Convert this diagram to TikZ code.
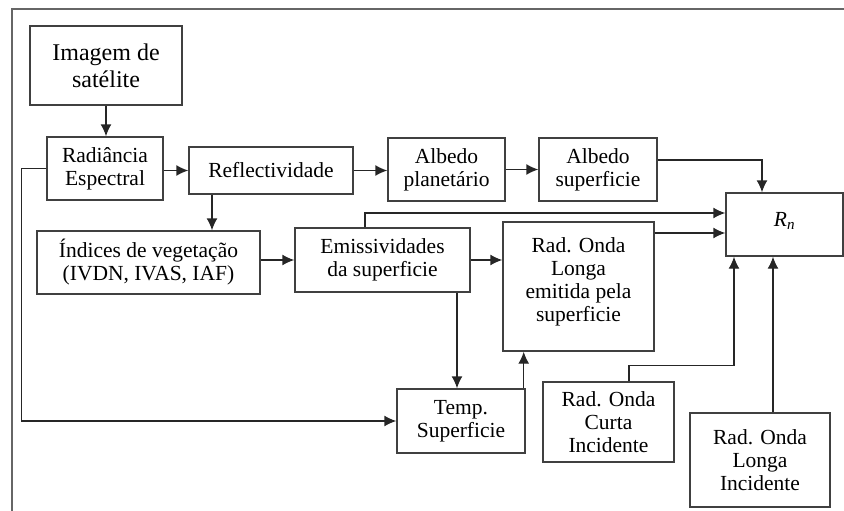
\documentclass[tikz,border=0pt]{standalone}
\usepackage{fontspec}
\setmainfont{Liberation Serif}
\usetikzlibrary{arrows.meta,positioning,calc}

\begin{document}
\begin{tikzpicture}[x=1pt,y=-1pt,
 bx/.style={draw=black!75,line width=1.4pt,align=center,inner sep=0pt,
   font=\fontsize{21.5}{23}\selectfont},
 arr/.style={-{Latex[length=12pt,width=11pt]},draw=black!85,line width=1.4pt}]
\useasboundingbox (0,0) rectangle (844,511);
% moldura
\draw[black!60,line width=1.4pt] (12,530) |- (860,9);

\node[bx,minimum width=152,minimum height=79,font=\fontsize{24}{27}\selectfont] (img) at (106,65.5) {Imagem de\\satélite};
\node[bx,minimum width=116,minimum height=63] (rad) at (105,168.5) {Radiância\\Espectral};
\node[bx,minimum width=164,minimum height=47] (refl) at (271,170.5) {Reflectividade};
\node[bx,minimum width=117,minimum height=63] (albp) at (446.5,169.5) {Albedo\\planetário};
\node[bx,minimum width=118,minimum height=63] (albs) at (598,169.5) {Albedo\\superficie};
\node[bx,minimum width=117,minimum height=63] (rn) at (784.5,224.5) {\textit{R}\textsubscript{\textit{n}}\\[-12pt]};
\node[bx,minimum width=223,minimum height=63] (ind) at (148.5,262.5) {Índices de vegetação\\(IVDN, IVAS, IAF)};
\node[bx,minimum width=175,minimum height=64] (emi) at (382.5,260) {Emissividades\\da superficie};
\node[bx,minimum width=151,minimum height=129] (rol) at (578.5,286.5) {Rad. Onda\\Longa\\emitida pela\\superficie\\[-10pt]};
\node[bx,minimum width=128,minimum height=64] (temp) at (461,421) {Temp.\\Superficie};
\node[bx,minimum width=131,minimum height=80] (roc) at (608.5,422) {Rad. Onda\\Curta\\Incidente};
\node[bx,minimum width=140,minimum height=94] (roli) at (760,460) {Rad. Onda\\Longa\\Incidente};

\draw[arr] (img) -- (img |- rad.north);
\draw[arr] (rad.east |- refl) -- (refl);
\draw[arr] (refl.east) -- (refl.east -| albp.west);
\draw[arr] (albp) -- (albs);
\draw[arr] ([yshift=9.5pt]albs.east) -| ([xshift=-22.5pt]rn.north);
\draw[arr] ([xshift=-59pt]refl.south) -- ([xshift=-59pt]refl.south |- ind.north);
\draw[arr] (ind.east |- emi) -- (emi);
\draw[arr] (emi) -- (emi -| rol.west);
\draw[arr] ([xshift=-17.5pt]emi.north) |- ([yshift=11.5pt]rn.west);
\draw[arr] ([yshift=-8.5pt]rn.west -| rol.east) -- ([yshift=-8.5pt]rn.west);
\draw[arr] ([xshift=-4pt]temp.north |- emi.south) -- ([xshift=-4pt]temp.north);
\draw[arr] ([xshift=-2pt]temp.north east) -- ([xshift=-2pt]temp.north east |- rol.south);
\draw[arr] (rad.west) -- ++(-25pt,0) |- (temp.west);
\draw[arr] ([xshift=20.5pt]roc.north) -- ++(0,16pt) -| ([xshift=-50.5pt]rn.south);
\draw[arr] ([xshift=13pt]roli.north) -- ([xshift=13pt]roli.north |- rn.south);
\end{tikzpicture}
\end{document}
